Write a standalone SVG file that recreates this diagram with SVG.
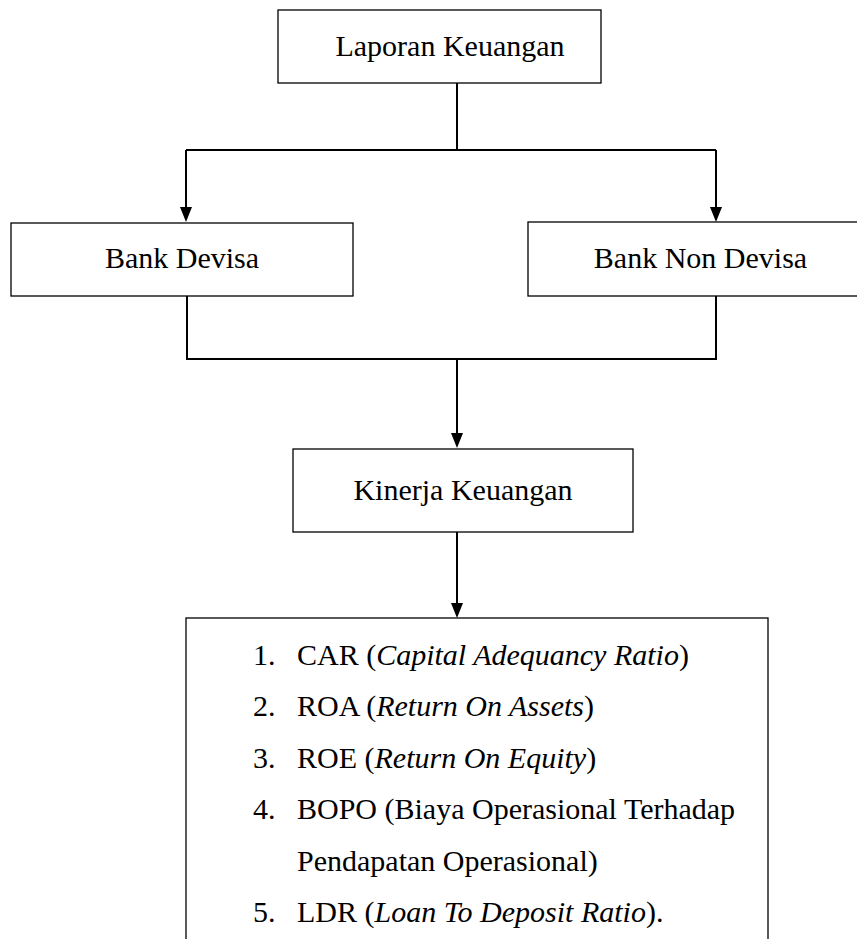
<svg xmlns="http://www.w3.org/2000/svg" width="857" height="939" viewBox="0 0 857 939">
<style>
.box{fill:#fff;stroke:#000;stroke-width:1.3}
.t{font-family:"Liberation Serif","Times New Roman",serif;font-size:30px;fill:#000}
.c{text-anchor:middle}
.i{font-style:italic}
.ln{fill:none;stroke:#000;stroke-width:2}
.ah{fill:#000}
</style>
<rect width="857" height="939" fill="#fff"/>
<g id="connectors">
<path class="ln" d="M457,83 V150"/>
<path class="ln" d="M186,150 H716"/>
<path class="ln" d="M186,150 V208"/>
<path class="ah" d="M180,207 L192,207 L186,222 Z"/>
<path class="ln" d="M716,150 V208"/>
<path class="ah" d="M710,207 L722,207 L716,222 Z"/>
<path class="ln" d="M187,296 V359 H716 V296"/>
<path class="ln" d="M457,359 V434"/>
<path class="ah" d="M451,433 L463,433 L457,448 Z"/>
<path class="ln" d="M457,532 V604"/>
<path class="ah" d="M451,603 L463,603 L457,618 Z"/>
</g>
<g id="laporan">
<rect class="box" x="278" y="10" width="323" height="73"/>
<text class="t c" x="450" y="56">Laporan Keuangan</text>
</g>
<g id="bank-devisa">
<rect class="box" x="11" y="223" width="342" height="73"/>
<text class="t c" x="182" y="268">Bank Devisa</text>
</g>
<g id="bank-non-devisa">
<rect class="box" x="528" y="222" width="345" height="74"/>
<text class="t c" x="700.5" y="268">Bank Non Devisa</text>
</g>
<g id="kinerja">
<rect class="box" x="293" y="449" width="340" height="83"/>
<text class="t c" x="463" y="500">Kinerja Keuangan</text>
</g>
<g id="rasio">
<rect class="box" x="186" y="618" width="582" height="340"/>
<text class="t" x="253" y="665">1.</text>
<text class="t" x="297" y="665">CAR (<tspan class="i">Capital Adequancy Ratio</tspan>)</text>
<text class="t" x="253" y="716">2.</text>
<text class="t" x="297" y="716">ROA (<tspan class="i">Return On Assets</tspan>)</text>
<text class="t" x="253" y="768">3.</text>
<text class="t" x="297" y="768">ROE (<tspan class="i">Return On Equity</tspan>)</text>
<text class="t" x="253" y="819">4.</text>
<text class="t" x="297" y="819">BOPO (Biaya Operasional Terhadap</text>
<text class="t" x="297" y="871">Pendapatan Operasional)</text>
<text class="t" x="253" y="922">5.</text>
<text class="t" x="297" y="922">LDR (<tspan class="i">Loan To Deposit Ratio</tspan>).</text>
</g>
</svg>
